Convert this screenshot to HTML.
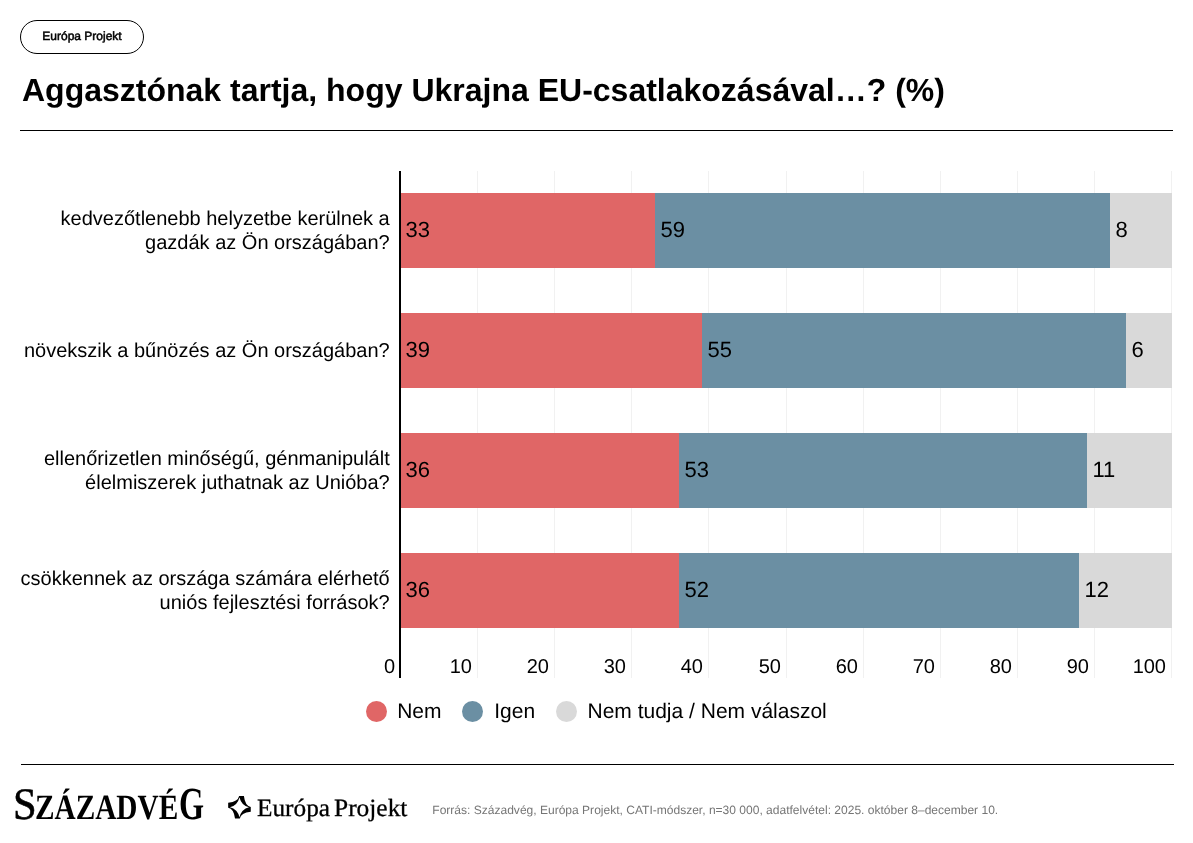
<!DOCTYPE html>
<html lang="hu">
<head>
<meta charset="utf-8">
<title>Aggasztónak tartja, hogy Ukrajna EU-csatlakozásával…? (%)</title>
<style>
html,body{margin:0;padding:0;background:#fff;}
body{width:1193px;height:843px;position:relative;overflow:hidden;font-family:"Liberation Sans",Arial,Helvetica,sans-serif;color:#000;}
#w{position:absolute;left:0;top:0;width:1193px;height:843px;will-change:transform;text-rendering:geometricPrecision;}
.abs{position:absolute;white-space:nowrap;}
.pill{left:20px;top:20px;width:122px;height:32px;border:1px solid #000;border-radius:17px;font-size:12px;line-height:30px;text-align:center;-webkit-text-stroke:0.5px #000;}
.title{left:22px;top:72.3px;font-size:32px;font-weight:700;line-height:36px;letter-spacing:0;}
.rule{left:20px;width:1153px;height:1px;background:#000;}
.cat{right:803.3px;width:380px;text-align:right;font-size:20px;line-height:23.5px;white-space:normal;}
.bar{height:75px;}
.red{background:#e06666;}
.blue{background:#6b8fa3;}
.grey{background:#d9d9d9;}
.val{font-size:22px;line-height:75px;}
.tick{font-size:20px;line-height:20px;text-align:right;width:60px;top:657px;}
.grid{top:171px;width:1px;height:507px;background:#f1f1f1;}
.dot{width:21px;height:21px;border-radius:50%;top:701px;}
.leg{font-size:21px;line-height:24px;top:700px;}
.src{left:432.3px;top:803px;font-size:12.045px;line-height:14px;color:#757575;}
.szv{font-family:"Liberation Serif","Times New Roman",serif;line-height:60px;transform-origin:0 0;}
.szS{left:12.6px;top:773.8px;font-size:45px;transform:scaleX(0.945);-webkit-text-stroke:0.6px #000;}
.szM{left:35.1px;top:777px;font-size:35.5px;font-weight:700;transform:scaleX(0.825);}
.szG{left:179px;top:773.5px;font-size:46px;font-weight:700;transform:scaleX(0.70);}
.ep{top:779.1px;font-family:"Liberation Serif","Times New Roman",serif;font-size:24.8px;line-height:60px;transform-origin:0 0;-webkit-text-stroke:0.3px #000;}
</style>
</head>
<body>
<div id="w">
<div class="abs pill">Európa Projekt</div>
<div class="abs title">Aggasztónak tartja, hogy Ukrajna EU-csatlakozásával…? (%)</div>
<div class="abs rule" style="top:130px"></div>

<!-- gridlines -->
<div class="abs grid" style="left:477px"></div>
<div class="abs grid" style="left:554px"></div>
<div class="abs grid" style="left:631px"></div>
<div class="abs grid" style="left:708px"></div>
<div class="abs grid" style="left:786px"></div>
<div class="abs grid" style="left:863px"></div>
<div class="abs grid" style="left:940px"></div>
<div class="abs grid" style="left:1017px"></div>
<div class="abs grid" style="left:1094px"></div>
<div class="abs grid" style="left:1171px"></div>

<!-- bars -->
<div class="abs bar grey" style="left:400px;top:193px;width:772px"></div>
<div class="abs bar blue" style="left:400px;top:193px;width:709.8px"></div>
<div class="abs bar red"  style="left:400px;top:193px;width:254.9px"></div>

<div class="abs bar grey" style="left:400px;top:313px;width:772px"></div>
<div class="abs bar blue" style="left:400px;top:313px;width:726.0px"></div>
<div class="abs bar red"  style="left:400px;top:313px;width:302.0px"></div>

<div class="abs bar grey" style="left:400px;top:433px;width:772px"></div>
<div class="abs bar blue" style="left:400px;top:433px;width:686.9px"></div>
<div class="abs bar red"  style="left:400px;top:433px;width:278.8px"></div>

<div class="abs bar grey" style="left:400px;top:553px;width:772px"></div>
<div class="abs bar blue" style="left:400px;top:553px;width:678.8px"></div>
<div class="abs bar red"  style="left:400px;top:553px;width:278.8px"></div>

<!-- axis line -->
<div class="abs" style="left:399px;top:171px;width:2px;height:507px;background:#000"></div>

<!-- value labels -->
<div class="abs val" style="left:405.6px;top:192px">33</div>
<div class="abs val" style="left:660.4px;top:192px">59</div>
<div class="abs val" style="left:1115.4px;top:192px">8</div>
<div class="abs val" style="left:405.6px;top:312px">39</div>
<div class="abs val" style="left:707.6px;top:312px">55</div>
<div class="abs val" style="left:1131.6px;top:312px">6</div>
<div class="abs val" style="left:405.6px;top:432px">36</div>
<div class="abs val" style="left:684.4px;top:432px">53</div>
<div class="abs val" style="left:1092.5px;top:432px">11</div>
<div class="abs val" style="left:405.6px;top:552px">36</div>
<div class="abs val" style="left:684.4px;top:552px">52</div>
<div class="abs val" style="left:1084.4px;top:552px">12</div>

<!-- category labels -->
<div class="abs cat" style="top:208px">kedvezőtlenebb helyzetbe kerülnek a<br>gazdák az Ön országában?</div>
<div class="abs cat" style="top:340px">növekszik a bűnözés az Ön országában?</div>
<div class="abs cat" style="top:448px">ellenőrizetlen minőségű, génmanipulált<br>élelmiszerek juthatnak az Unióba?</div>
<div class="abs cat" style="top:568px">csökkennek az országa számára elérhető<br>uniós fejlesztési források?</div>

<!-- ticks -->
<div class="abs tick" style="left:335px">0</div>
<div class="abs tick" style="left:412px">10</div>
<div class="abs tick" style="left:489px">20</div>
<div class="abs tick" style="left:566px">30</div>
<div class="abs tick" style="left:643px">40</div>
<div class="abs tick" style="left:721px">50</div>
<div class="abs tick" style="left:798px">60</div>
<div class="abs tick" style="left:875px">70</div>
<div class="abs tick" style="left:952px">80</div>
<div class="abs tick" style="left:1029px">90</div>
<div class="abs tick" style="left:1106px">100</div>

<!-- legend -->
<div class="abs dot red" style="left:366px"></div>
<div class="abs leg" style="left:397.2px">Nem</div>
<div class="abs dot blue" style="left:462px"></div>
<div class="abs leg" style="left:494.2px">Igen</div>
<div class="abs dot grey" style="left:556px"></div>
<div class="abs leg" style="left:587.5px">Nem tudja / Nem válaszol</div>

<div class="abs rule" style="top:764px;left:21px"></div>

<!-- footer -->
<div class="abs szv szS">S</div><div class="abs szv szM">ZÁZADVÉ</div><div class="abs szv szG">G</div>
<svg class="abs" style="left:225px;top:793px" width="30" height="30" viewBox="0 0 30 30"><path transform="translate(14.47 14.3)" fill="#000" fill-rule="evenodd" d="M-0.36,-11.3 L4.45,-11.3 Q5.6,-1.35 11.3,-0.36 L11.3,4.45 Q1.35,5.6 0.36,11.3 L-4.45,11.3 Q-5.6,1.35 -11.3,0.36 L-11.3,-4.45 Q-1.35,-5.6 -0.36,-11.3 Z M0,-9.9 Q2,-2 9.5,0 Q2,2 0,9.9 Q-2,2 -9.5,0 Q-2,-2 0,-9.9 Z"/></svg>
<div class="abs ep" style="left:257.1px;transform:scaleX(1.02)">Európa</div><div class="abs ep" style="left:333.8px;transform:scaleX(1.025)">Projekt</div>
<div class="abs src">Forrás: Századvég, Európa Projekt, CATI-módszer, n=30 000, adatfelvétel: 2025. október 8–december 10.</div>
</div>
</body>
</html>
